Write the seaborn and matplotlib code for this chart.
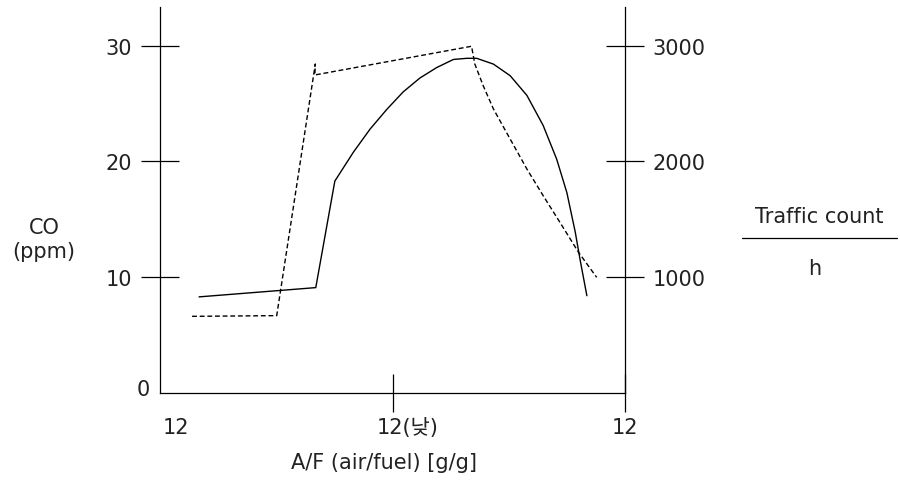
import matplotlib
matplotlib.use("Agg")
import matplotlib.pyplot as plt
import seaborn as sns
from matplotlib.lines import Line2D
from matplotlib.transforms import ScaledTranslation

# CO (left axis, ppm) - solid curve
co_x = [0.84, 3.35, 3.76, 4.16, 4.52, 4.88, 5.23, 5.59, 5.95, 6.31, 6.60,
        6.81, 7.17, 7.53, 7.89, 8.24, 8.53, 8.75, 8.93, 9.03, 9.18]
co_y = [8.3, 9.1, 18.3, 20.8, 22.8, 24.5, 26.0, 27.2, 28.1, 28.8, 28.9,
        28.9, 28.4, 27.4, 25.7, 23.1, 20.2, 17.3, 13.9, 11.6, 8.4]

# Traffic count per hour (right axis) - dashed curve
tr_x = [0.69, 2.51, 3.34, 3.33, 6.70, 6.77, 6.95, 7.17, 7.53, 7.89,
        8.24, 8.60, 9.00, 9.39]
tr_y = [662, 668, 2841, 2746, 2994, 2841, 2654, 2453, 2193, 1934,
        1704, 1474, 1215, 999]

x_tick_pos = [5, 10]
x_tick_labels = ["12(낮)", "12"]
left_ticks = [10, 20, 30]
right_ticks = [1000, 2000, 3000]

sns.set_theme(style="white")
plt.rcParams["font.family"] = ["DejaVu Sans", "Noto Sans CJK KR"]
fs = 15

fig = plt.figure(figsize=(9, 4.85), dpi=100)
ax = fig.add_axes([160 / 900, 91 / 485, 465 / 900, 386 / 485])
ax2 = ax.twinx()

sns.lineplot(x=co_x, y=co_y, ax=ax, color="black", lw=1.0, sort=False, estimator=None)
sns.lineplot(x=tr_x, y=tr_y, ax=ax2, color="black", lw=1.0, sort=False, estimator=None,
             linestyle=(0, (3.5, 2)))

ax.set_xlim(0, 10)
ax.set_ylim(0, 33.33)
ax2.set_ylim(0, 3333)

for a in (ax, ax2):
    for s in a.spines.values():
        s.set_visible(False)
        s.set_color("black")
        s.set_linewidth(0.9)
ax.spines["left"].set_visible(True)
ax.spines["bottom"].set_visible(True)
ax2.spines["right"].set_visible(True)

tick_len = 28
ax.set_yticks(left_ticks)
ax.set_yticklabels([str(v) for v in left_ticks])
ax.tick_params(axis="y", direction="inout", length=tick_len, width=0.9, color="black",
               pad=6, labelsize=fs, labelcolor="#222222")
ax2.set_yticks(right_ticks)
ax2.set_yticklabels([str(v) for v in right_ticks])
ax2.tick_params(axis="y", direction="inout", length=tick_len, width=0.9, color="black",
                pad=6, labelsize=fs, labelcolor="#222222")

ax.set_xticks(x_tick_pos)
ax.set_xticklabels(x_tick_labels)
ax.tick_params(axis="x", direction="inout", length=27, width=0.9, color="black",
               pad=4, labelsize=fs, bottom=True, labelcolor="#222222")
lbl = ax.get_xticklabels()[0]
lbl.set_transform(lbl.get_transform() + ScaledTranslation(15 / 100, 0, fig.dpi_scale_trans))

ax.set_xlabel("")
ax.set_ylabel("")
ax2.set_ylabel("")

# extra labels
tc = "#222222"
fig.text(176 / 900, 1 - 428 / 485, "12", ha="center", va="center", fontsize=fs, color=tc)
fig.text(150 / 900, 1 - 390 / 485, "0", ha="right", va="center", fontsize=fs, color=tc)
fig.text(384 / 900, 1 - 463 / 485, "A/F (air/fuel) [g/g]", ha="center", va="center",
         fontsize=fs, color=tc)
fig.text(44 / 900, 1 - 240 / 485, "CO\n(ppm)", ha="center", va="center", fontsize=fs,
         linespacing=1.3, multialignment="center", color=tc)
fig.text(819 / 900, 1 - 217 / 485, "Traffic count", ha="center", va="center",
         fontsize=fs, color=tc)
fig.add_artist(Line2D([742 / 900, 897 / 900], [1 - 239 / 485, 1 - 239 / 485],
                      transform=fig.transFigure, color="black", lw=0.9))
fig.text(815 / 900, 1 - 269 / 485, "h", ha="center", va="center", fontsize=fs, color=tc)

fig.savefig("out.png", dpi=100, facecolor="white")
